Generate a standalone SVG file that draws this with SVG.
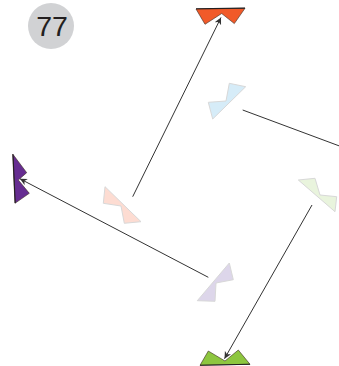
<svg xmlns="http://www.w3.org/2000/svg" width="339" height="366" viewBox="0 0 339 366">
<defs>
<style>
.lbl{font-family:"Liberation Sans",Arial,sans-serif;font-size:28.5px;fill:#231f20;text-anchor:middle}
.pale{stroke:#d8d8d8;stroke-width:1;stroke-linejoin:miter}
.bold{stroke:#3a2a20;stroke-width:0.6;stroke-linejoin:miter}
.base{stroke:#231f20;stroke-width:1.1;fill:none}
.conn{stroke:#333;stroke-width:1;fill:none}
</style>
<marker id="ah" markerWidth="8" markerHeight="8" refX="7" refY="3.5" orient="auto" markerUnits="userSpaceOnUse">
<path d="M0,0 L7,3.5 L0,7 L2,3.5 z" fill="#333"/>
</marker>
</defs>
<rect width="339" height="366" fill="#fff"/>
<g id="badge">
<circle cx="51" cy="26" r="23" fill="#d1d2d4"/>
<text class="lbl" x="52" y="36">77</text>
</g>
<g id="node-orange">
<polygon class="bold" fill="#f15a29" points="196,9 245,8.3 234.3,23.6 221.7,13.5 205,24.3"/>
<line class="base" x1="196" y1="8.8" x2="245" y2="8.1"/>
</g>
<g id="node-purple">
<polygon class="bold" fill="#662d91" points="12.7,154 15,203.3 29.3,193.3 18.3,180 26.7,172.7"/>
<line class="base" x1="13" y1="154.5" x2="15.2" y2="203"/>
</g>
<g id="node-lime">
<polygon class="bold" fill="#8dc63f" points="200,365.3 250,364.3 238.3,350 225,361 208.3,351"/>
<line class="base" x1="200" y1="365.2" x2="250" y2="364.2"/>
</g>
<g id="node-lightblue">
<polygon class="pale" fill="#d6ecf8" points="245.7,86.7 212.7,119 208.3,102.3 226,101 229.3,83.3"/>
</g>
<g id="node-pink">
<polygon class="pale" fill="#fddcd2" points="105,186.7 141,221.7 124.3,223.3 121,206 103.3,203.3"/>
</g>
<g id="node-green">
<polygon class="pale" fill="#e9f4dd" points="298.3,180 335,211.7 336.7,196.7 320,195 315,178.3"/>
</g>
<g id="node-lavender">
<polygon class="pale" fill="#ddd6ea" points="229.3,263 197.3,300.7 215,301.3 216,283 233.3,279.7"/>
</g>
<g id="connectors">
<line class="conn" x1="132.7" y1="196.7" x2="221" y2="17.5" marker-end="url(#ah)"/>
<line class="conn" x1="242.7" y1="110" x2="340" y2="146.2"/>
<line class="conn" x1="208.3" y1="277.3" x2="20" y2="178.8" marker-end="url(#ah)"/>
<line class="conn" x1="312" y1="205" x2="224.5" y2="358.7" marker-end="url(#ah)"/>
</g>
</svg>
